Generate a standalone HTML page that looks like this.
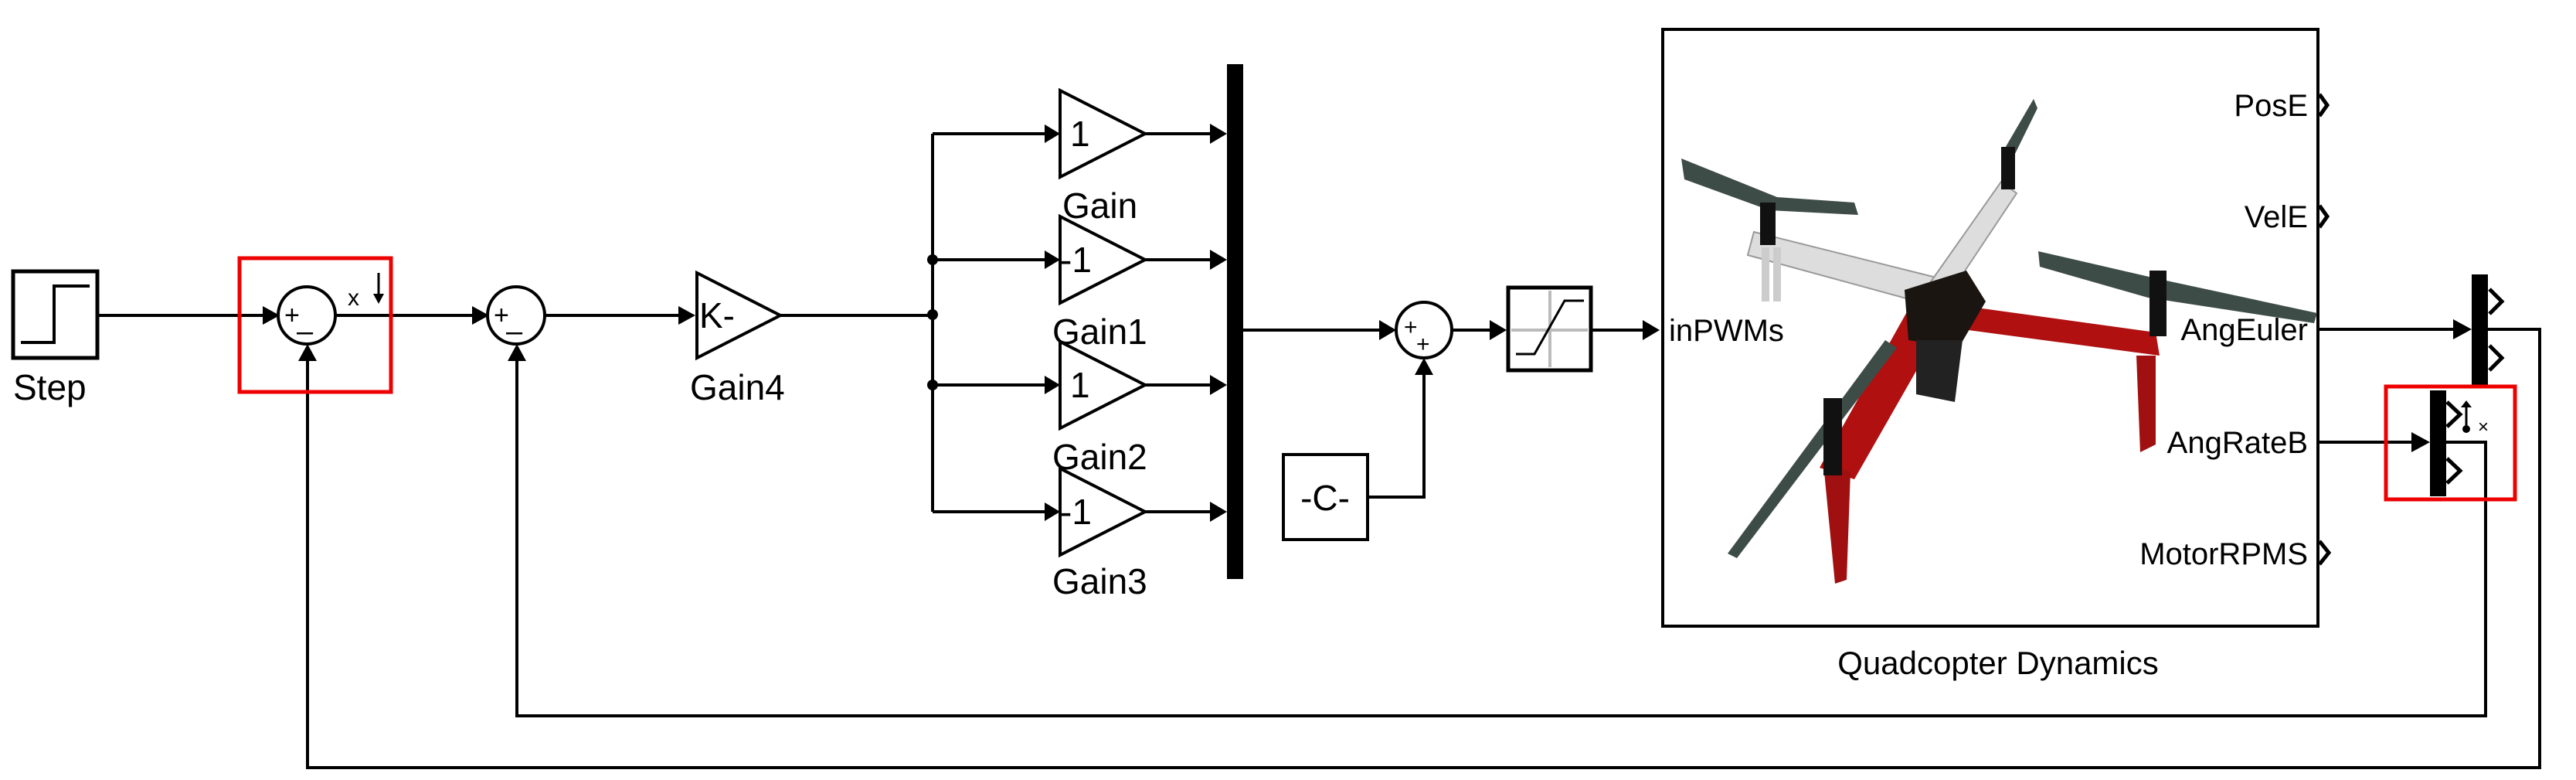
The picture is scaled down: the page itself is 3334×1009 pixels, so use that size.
<!DOCTYPE html>
<html><head><meta charset="utf-8"><style>
html,body{margin:0;padding:0;background:#fff;}
svg{display:block;}
text{font-family:"Liberation Sans",sans-serif;fill:#000;}
</style></head><body>
<svg width="3334" height="1009" viewBox="0 0 3334 1009" xmlns="http://www.w3.org/2000/svg">
<g stroke="#000" stroke-width="4" fill="none">
<rect x="17" y="351" width="109" height="112" stroke-width="5"/>
<polyline points="27,443 70,443 70,370 116,370" stroke-width="4"/>
<line x1="126" y1="408" x2="340" y2="408"/>
<line x1="434" y1="408" x2="611" y2="408"/>
<line x1="705" y1="408" x2="878" y2="408"/>
<line x1="1010" y1="408" x2="1207" y2="408"/>
<polyline points="1207,173 1207,662"/>
<line x1="1207" y1="173" x2="1352" y2="173"/>
<line x1="1207" y1="336" x2="1352" y2="336"/>
<line x1="1207" y1="498" x2="1352" y2="498"/>
<line x1="1207" y1="662" x2="1352" y2="662"/>
<line x1="1482" y1="173" x2="1568" y2="173"/>
<line x1="1482" y1="336" x2="1568" y2="336"/>
<line x1="1482" y1="498" x2="1568" y2="498"/>
<line x1="1482" y1="662" x2="1568" y2="662"/>
<line x1="1609" y1="427" x2="1787" y2="427"/>
<line x1="1879" y1="427" x2="1930" y2="427"/>
<line x1="2061" y1="427" x2="2128" y2="427"/>
<polyline points="1770,643 1843,643 1843,483"/>
<line x1="3002" y1="426" x2="3179" y2="426"/>
<polyline points="3220,426 3287,426 3287,993 398,993 398,465"/>
<line x1="3002" y1="572" x2="3125" y2="572"/>
<polyline points="3166,572 3217,572 3217,926 669,926 669,465"/>
</g>
<g fill="#000">
<path d="M340,396 L362,408 L340,420z"/>
<path d="M611,396 L633,408 L611,420z"/>
<path d="M878,396 L900,408 L878,420z"/>
<path d="M1352,161 L1372,173 L1352,185z"/>
<path d="M1352,324 L1372,336 L1352,348z"/>
<path d="M1352,486 L1372,498 L1352,510z"/>
<path d="M1352,650 L1372,662 L1352,674z"/>
<path d="M1566,160 L1588,173 L1566,186z"/>
<path d="M1566,323 L1588,336 L1566,349z"/>
<path d="M1566,485 L1588,498 L1566,511z"/>
<path d="M1566,649 L1588,662 L1566,675z"/>
<path d="M1785,414 L1807,427 L1785,440z"/>
<path d="M1928,414 L1950,427 L1928,440z"/>
<path d="M2126,414 L2148,427 L2126,440z"/>
<path d="M1831,485 L1843,463 L1855,485z"/>
<path d="M386,467 L398,445 L410,467z"/>
<path d="M657,467 L669,445 L681,467z"/>
<path d="M3175,413 L3199,426 L3175,439z"/>
<path d="M3121,559 L3145,572 L3121,585z"/>
<circle cx="1207" cy="336" r="7"/>
<circle cx="1207" cy="407" r="7"/>
<circle cx="1207" cy="498" r="7"/>
</g>
<g stroke="#000" stroke-width="4" fill="#fff">
<ellipse cx="397" cy="408" rx="37" ry="37"/>
<ellipse cx="668" cy="408" rx="37" ry="37"/>
<ellipse cx="1843" cy="427" rx="36" ry="36"/>
</g>
<text x="368" y="419" font-size="34">+</text>
<text x="384" y="441" font-size="38">–</text>
<text x="639" y="419" font-size="34">+</text>
<text x="655" y="441" font-size="38">–</text>
<text x="1817" y="433" font-size="30">+</text>
<text x="1833" y="455" font-size="30">+</text>
<text x="450" y="395" font-size="30">x</text>
<line x1="490" y1="353" x2="490" y2="385" stroke="#000" stroke-width="3"/>
<path d="M483,380 L490,393 L497,380z" fill="#000"/>
<path d="M902,353 L1010,408 L902,463z" fill="#fff" stroke="#000" stroke-width="4"/>
<text x="905" y="424" font-size="46">K-</text>
<text x="893" y="517" font-size="46">Gain4</text>
<text x="17" y="517" font-size="46">Step</text>
<g stroke="#000" stroke-width="4" fill="#fff">
<path d="M1372,117 L1482,173 L1372,229z"/>
<path d="M1372,280 L1482,336 L1372,392z"/>
<path d="M1372,442 L1482,498 L1372,554z"/>
<path d="M1372,606 L1482,662 L1372,718z"/>
</g>
<text x="1385" y="189" font-size="46">1</text>
<text x="1372" y="352" font-size="46">-1</text>
<text x="1385" y="514" font-size="46">1</text>
<text x="1372" y="678" font-size="46">-1</text>
<text x="1375" y="282" font-size="46">Gain</text>
<text x="1362" y="445" font-size="46">Gain1</text>
<text x="1362" y="607" font-size="46">Gain2</text>
<text x="1362" y="768" font-size="46">Gain3</text>
<rect x="1588" y="83" width="21" height="666" fill="#000"/>
<rect x="1661" y="588" width="109" height="110" fill="#fff" stroke="#000" stroke-width="4"/>
<text x="1715" y="660" font-size="46" text-anchor="middle">-C-</text>
<rect x="1952" y="372" width="107" height="107" fill="#fff" stroke="#000" stroke-width="5"/>
<line x1="1956" y1="427" x2="2055" y2="427" stroke="#bbb" stroke-width="4"/>
<line x1="2006" y1="376" x2="2006" y2="475" stroke="#bbb" stroke-width="4"/>
<polyline points="1962,458 1986,458 2025,389 2050,389" fill="none" stroke="#000" stroke-width="3"/>
<rect x="2152" y="38" width="848" height="772" fill="#fff" stroke="#000" stroke-width="4"/>
<g>
<polygon points="2270,300 2510,360 2500,395 2262,330" fill="#ddd" stroke="#999" stroke-width="2"/>
<polygon points="2590,235 2610,250 2520,385 2495,370" fill="#ddd" stroke="#999" stroke-width="2"/>
<rect x="2280" y="320" width="10" height="70" fill="#ccc"/>
<rect x="2295" y="320" width="10" height="70" fill="#ccc"/>
<polygon points="2500,390 2790,430 2795,460 2495,420" fill="#b01010"/>
<polygon points="2470,400 2520,410 2400,620 2355,605" fill="#b01010"/>
<polygon points="2360,600 2395,610 2390,750 2375,755" fill="#a01010"/>
<polygon points="2765,460 2790,460 2790,575 2770,585" fill="#a01010"/>
<polygon points="2465,375 2545,350 2570,390 2535,450 2470,440" fill="#1a1510"/>
<polygon points="2480,440 2540,440 2530,520 2480,510" fill="#222"/>
<polygon points="2176,205 2300,255 2400,262 2405,278 2290,272 2180,232" fill="#3e4c48"/>
<polygon points="2632,128 2625,140 2590,200 2605,205 2637,140" fill="#3e4c48"/>
<polygon points="2638,325 2790,360 2999,405 2995,418 2780,385 2640,345" fill="#3e4c48"/>
<polygon points="2236,716 2440,440 2455,450 2248,722" fill="#3e4c48"/>
<rect x="2278" y="262" width="20" height="55" fill="#111"/>
<rect x="2590" y="190" width="18" height="55" fill="#111"/>
<rect x="2782" y="350" width="22" height="85" fill="#111"/>
<rect x="2360" y="515" width="24" height="100" fill="#111"/>
</g>
<g font-size="40">
<text x="2160" y="441">inPWMs</text>
<text x="2987" y="150" text-anchor="end">PosE</text>
<text x="2987" y="294" text-anchor="end">VelE</text>
<text x="2987" y="440" text-anchor="end">AngEuler</text>
<text x="2987" y="586" text-anchor="end">AngRateB</text>
<text x="2987" y="730" text-anchor="end">MotorRPMS</text>
</g>
<g stroke="#000" stroke-width="5" fill="none">
<polyline points="3002,122 3012,136 3002,150"/>
<polyline points="3002,266 3012,280 3002,294"/>
<polyline points="3002,700 3014,715 3002,730"/>
<polyline points="3222,374 3238,390 3222,406"/>
<polyline points="3222,447 3238,463 3222,479"/>
<polyline points="3167,520 3184,536 3167,552"/>
<polyline points="3167,593 3184,609 3167,625"/>
</g>
<text x="2586" y="872" font-size="42" text-anchor="middle">Quadcopter Dynamics</text>
<rect x="3199" y="355" width="21" height="145" fill="#000"/>
<rect x="3145" y="505" width="21" height="137" fill="#000"/>
<line x1="3192" y1="522" x2="3192" y2="553" stroke="#000" stroke-width="3"/>
<path d="M3185,527 L3192,518 L3199,527z" fill="#000"/>
<circle cx="3192" cy="555" r="5" fill="#000"/>
<text x="3207" y="560" font-size="24">×</text>
<rect x="310" y="334" width="196" height="173" fill="none" stroke="#e00" stroke-width="5"/>
<rect x="3088" y="500" width="167" height="146" fill="none" stroke="#e00" stroke-width="5"/>
</svg>
</body></html>
